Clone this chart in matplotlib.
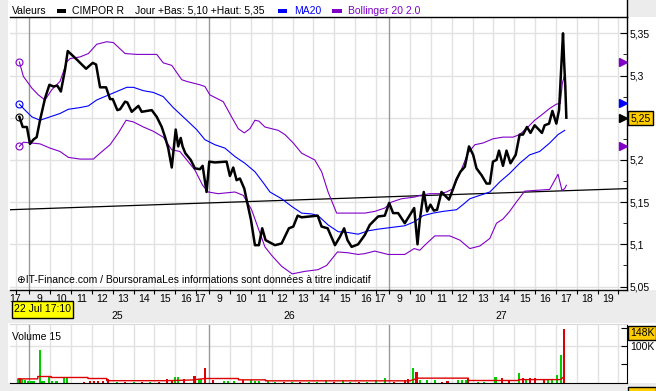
import matplotlib
matplotlib.use('Agg')
import matplotlib.pyplot as plt
from matplotlib.patches import Rectangle
from matplotlib.lines import Line2D
from matplotlib.ticker import FixedLocator, FuncFormatter, NullFormatter

plt.rcParams['font.family'] = ['Liberation Sans', 'DejaVu Sans']

W, H = 656, 391
SESSION = 8.63   # axis length of one trading day in hours (09:00 -> ~17:38)

# ---------------- data (x = session hours counted from 25 Jul 09:00) ----------------
price_t = [-0.48, -0.32, -0.12, 0.03, 0.19, 0.35, 0.51, 0.75, 0.96, 1.15, 1.34, 1.51, 1.71, 1.84,
           2.27, 2.72, 3.04, 3.20, 3.39, 3.68, 3.87, 4.00, 4.22, 4.35, 4.59, 4.70, 4.91, 5.23,
           5.39, 5.63, 5.87, 6.11, 6.35, 6.51, 6.66, 6.83, 6.90, 7.02, 7.14, 7.26, 7.35, 7.48,
           7.74, 7.94, 8.18, 8.31, 8.50, 8.63, 8.90, 9.46, 9.62, 9.78, 9.94, 10.10, 10.31, 10.42,
           10.63, 10.82, 11.01, 11.17, 11.33, 11.78, 12.10, 12.45, 12.66, 12.87, 13.06, 13.83,
           14.02, 14.31, 14.66, 14.90, 15.10, 15.26, 15.46, 15.77, 16.09, 16.33, 16.73, 17.05,
           17.26, 17.45, 17.69, 18.01, 18.46, 18.62, 18.73, 18.92, 19.08, 19.24, 19.40, 19.56,
           19.77, 19.93, 20.13, 20.30, 20.49, 20.68, 20.89, 21.09, 21.29, 21.45, 21.69, 21.93,
           22.09, 22.24, 22.41, 22.53, 22.72, 22.89, 23.08, 23.33, 23.52, 23.68, 23.87, 24.04,
           24.24, 24.40, 24.59, 24.72, 24.93, 25.09, 25.28, 25.41, 25.52, 25.60, 25.65, 25.71, 25.76]
price_v = [5.251, 5.239, 5.239, 5.219, 5.224, 5.227, 5.247, 5.273, 5.289, 5.287, 5.288, 5.281, 5.307, 5.329,
           5.319, 5.308, 5.315, 5.313, 5.286, 5.286, 5.272, 5.272, 5.259, 5.260, 5.269, 5.268, 5.257, 5.264,
           5.257, 5.258, 5.259, 5.251, 5.239, 5.227, 5.214, 5.191, 5.208, 5.236, 5.216, 5.226, 5.216, 5.208,
           5.200, 5.190, 5.189, 5.193, 5.162, 5.198, 5.197, 5.198, 5.181, 5.191, 5.176, 5.178, 5.166, 5.153,
           5.129, 5.099, 5.099, 5.119, 5.105, 5.099, 5.101, 5.119, 5.121, 5.134, 5.132, 5.134,
           5.121, 5.119, 5.099, 5.109, 5.119, 5.105, 5.097, 5.100, 5.111, 5.123, 5.133, 5.134,
           5.149, 5.137, 5.137, 5.125, 5.143, 5.100, 5.129, 5.162, 5.139, 5.147, 5.140, 5.141,
           5.162, 5.158, 5.153, 5.164, 5.177, 5.186, 5.192, 5.216, 5.206, 5.190, 5.182, 5.172,
           5.172, 5.198, 5.200, 5.211, 5.193, 5.211, 5.196, 5.206, 5.230, 5.230, 5.239, 5.232,
           5.241, 5.237, 5.232, 5.241, 5.243, 5.258, 5.243, 5.259, 5.312, 5.350, 5.318, 5.287, 5.250]

ma_t = [-0.48, -0.21, 0.12, 0.51, 0.99, 1.47, 1.87, 2.43, 2.83, 3.23, 3.71, 4.19, 4.67, 4.99, 5.47,
        5.94, 6.42, 6.90, 7.55, 8.02, 8.42, 8.90, 9.38, 9.86, 10.34, 10.82, 11.22, 11.54, 12.10,
        12.58, 13.06, 13.54, 13.85, 14.33, 14.81, 15.29, 15.77, 16.25, 16.73, 17.37, 18.01, 18.49,
        18.89, 19.37, 19.84, 20.49, 20.80, 21.13, 21.61, 22.09, 22.57, 23.04, 23.52, 24.00, 24.48,
        24.96, 25.36, 25.68]
ma_v = [5.266, 5.259, 5.251, 5.247, 5.251, 5.255, 5.260, 5.262, 5.264, 5.271, 5.276, 5.281, 5.286, 5.286, 5.282,
        5.280, 5.275, 5.262, 5.247, 5.236, 5.224, 5.218, 5.214, 5.204, 5.196, 5.186, 5.173, 5.162, 5.154,
        5.145, 5.137, 5.136, 5.134, 5.123, 5.115, 5.114, 5.112, 5.116, 5.118, 5.120, 5.122, 5.127,
        5.134, 5.137, 5.139, 5.141, 5.147, 5.154, 5.158, 5.162, 5.174, 5.184, 5.196, 5.206, 5.210,
        5.220, 5.230, 5.235]

upper_t = [-0.48, -0.29, 0.12, 0.43, 0.75, 1.07, 1.47, 1.79, 1.95, 2.43, 2.83, 3.23, 3.71, 4.03, 4.59,
           5.15, 6.11, 6.42, 6.83, 7.31, 7.55, 8.18, 8.42, 8.66, 9.30, 9.70, 10.02, 10.31, 10.58,
           10.82, 11.01, 11.30, 11.94, 12.26, 12.66, 13.06, 13.69, 14.02, 14.33, 14.74, 15.13, 16.09,
           16.57, 17.05, 17.37, 17.85, 18.49, 18.73, 19.21, 19.69, 20.01, 20.33, 20.65, 21.04, 21.37,
           21.76, 22.24, 22.72, 23.20, 23.52, 23.92, 24.24, 24.56, 24.96, 25.28, 25.47, 25.57, 25.68]
upper_v = [5.316, 5.299, 5.285, 5.277, 5.271, 5.283, 5.293, 5.316, 5.320, 5.322, 5.326, 5.337, 5.340, 5.339, 5.326,
           5.325, 5.325, 5.315, 5.312, 5.295, 5.293, 5.289, 5.287, 5.277, 5.269, 5.251, 5.237, 5.232, 5.237,
           5.247, 5.246, 5.239, 5.235, 5.230, 5.220, 5.208, 5.200, 5.186, 5.162, 5.137, 5.137, 5.137,
           5.139, 5.143, 5.150, 5.154, 5.156, 5.158, 5.160, 5.160, 5.162, 5.166, 5.184, 5.208, 5.218,
           5.220, 5.225, 5.227, 5.227, 5.230, 5.239, 5.247, 5.253, 5.261, 5.266, 5.267, 5.291, 5.301]

lower_t = [-0.48, -0.29, 0.12, 0.51, 0.99, 1.47, 1.87, 2.43, 3.07, 3.39, 3.87, 4.27, 4.64, 4.99, 5.47,
           5.94, 6.42, 6.83, 7.22, 7.55, 7.94, 8.31, 8.58, 9.06, 9.86, 10.26, 10.66, 10.98, 11.30,
           11.62, 12.10, 12.61, 13.22, 13.85, 14.26, 14.78, 15.29, 15.77, 16.09, 16.57, 17.21, 18.01,
           18.46, 18.73, 18.97, 19.45, 20.17, 20.65, 21.13, 21.61, 22.09, 22.41, 22.72, 23.04, 23.33,
           23.76, 24.32, 24.96, 25.36, 25.55, 25.68, 25.76]
lower_v = [5.216, 5.221, 5.220, 5.219, 5.214, 5.210, 5.203, 5.201, 5.201, 5.208, 5.218, 5.232, 5.247, 5.245, 5.239,
           5.234, 5.227, 5.212, 5.210, 5.200, 5.188, 5.170, 5.162, 5.160, 5.162, 5.158, 5.141, 5.119, 5.097,
           5.087, 5.074, 5.065, 5.068, 5.070, 5.075, 5.091, 5.090, 5.088, 5.089, 5.092, 5.088, 5.088,
           5.095, 5.093, 5.099, 5.110, 5.110, 5.105, 5.095, 5.098, 5.107, 5.125, 5.130, 5.139, 5.149,
           5.163, 5.164, 5.165, 5.183, 5.164, 5.166, 5.170]

trend_t = [-0.93, 28.67]
trend_v = [5.141, 5.166]

last_marks = [(5.316, '#8000c8'), (5.267, '#0000ff'), (5.250, '#000000'), (5.216, '#8000c8')]

vol_t = [-0.54, -0.44, -0.34, -0.20, -0.06, 0.10, 0.20, 0.50, 0.60, 0.70, 0.96, 1.10, 1.30, 1.64, 1.80,
         2.61, 2.91, 3.11, 3.31, 3.51, 3.77, 4.20, 4.60, 5.00, 5.40, 5.80, 6.20, 6.62, 6.82, 6.98, 7.12,
         7.42, 7.92, 8.12, 8.22, 8.44, 8.82, 9.32, 9.53, 9.83, 10.23, 10.63, 10.83, 11.03, 11.43,
         11.80, 12.20, 12.60, 13.00, 13.40, 13.80, 14.24, 14.60, 15.04, 15.40, 15.80, 16.20, 16.65,
         17.05, 17.50, 18.01, 18.15, 18.39, 18.57, 18.75, 19.06, 19.45, 19.80, 20.06, 20.56, 20.76,
         20.96, 21.06, 21.50, 21.80, 22.36, 22.67, 23.03, 23.51, 23.67, 23.83, 24.03, 24.27, 24.67,
         24.87, 25.07, 25.33, 25.51, 25.66]
vol_v = [9.2, 12.8, 9.2, 7.3, 3.7, 2.8, 2.8, 90.8, 3.7, 3.7, 14.7, 3.7, 3.7, 12.0, 12.0,
         2.0, 5.5, 3.7, 3.7, 3.7, 10.0, 2.5, 2.5, 2.5, 2.5, 2.5, 2.5, 9.0, 7.0, 13.8, 13.8,
         9.0, 19.0, 10.0, 10.0, 41.0, 7.3, 3.7, 3.7, 3.7, 7.0, 7.3, 5.0, 5.0, 3.0,
         2.5, 2.5, 2.5, 2.5, 2.5, 2.5, 7.3, 2.5, 7.3, 2.5, 2.5, 2.5, 8.0,
         12.8, 2.5, 7.3, 9.2, 41.0, 30.0, 7.3, 7.3, 7.3, 2.5, 3.7, 7.3, 7.3,
         7.3, 12.8, 2.5, 2.5, 13.8, 12.8, 7.3, 25.7, 12.8, 10.0, 12.8, 12.8, 10.0,
         10.0, 7.3, 22.0, 75.0, 148.0]   # thousands
vol_up = ['g', 'r', 'g', 'g', 'g', 'g', 'g', 'g', 'g', 'g', 'g', 'g', 'g', 'g', 'g',
          'r', 'r', 'r', 'r', 'r', 'r', 'g', 'r', 'g', 'r', 'g', 'r', 'r', 'r', 'g', 'g',
          'r', 'r', 'g', 'g', 'r', 'r', 'g', 'g', 'g', 'r', 'g', 'g', 'g', 'g',
          'g', 'r', 'g', 'r', 'g', 'g', 'g', 'r', 'g', 'g', 'r', 'g', 'g',
          'g', 'r', 'r', 'r', 'g', 'r', 'g', 'g', 'g', 'r', 'r', 'g', 'g',
          'g', 'r', 'g', 'g', 'g', 'r', 'r', 'g', 'r', 'g', 'r', 'r', 'r',
          'g', 'g', 'g', 'g', 'r']

volma_t = [-0.54, 0.40, 0.40, 1.04, 1.04, 2.81, 2.81, 3.71, 3.71, 6.62, 7.82, 8.42, 10.03, 10.03,
           11.33, 11.33, 18.25, 18.65, 21.06, 21.06, 23.47, 23.47, 25.47, 25.66]
volma_v = [10.0, 10.0, 16.5, 16.5, 13.8, 13.8, 11.0, 11.0, 5.0, 5.0, 7.0, 11.0, 11.0, 7.3,
           7.3, 4.6, 4.6, 12.0, 12.0, 5.5, 5.5, 8.0, 8.0, 16.0]

day_names = ['25', '26', '27']
day_label_t = [4.21, 12.45, 22.66]

# ---------------- figure ----------------
GRAY = '#ececec'
PURPLE = '#8000c8'
fig = plt.figure(figsize=(W / 100, H / 100), dpi=100, facecolor=GRAY)


def px_rect(x, y, w, h, **kw):
    r = Rectangle((x / W, 1 - (y + h) / H), w / W, h / H, transform=fig.transFigure, **kw)
    fig.add_artist(r)
    return r


def px_text(x, y, s, **kw):
    return fig.text(x / W, 1 - y / H, s, **kw)


# white backgrounds
px_rect(8, 0, 619, 290, facecolor='white', edgecolor='none', zorder=0)
px_rect(627, 17, 29, 273, facecolor='white', edgecolor='none', zorder=0)
px_rect(8, 323, 648, 60, facecolor='white', edgecolor='none', zorder=0)
fig.add_artist(Line2D([627 / W, 627 / W], [1 - 17 / H, 1.0], color='black', lw=1,
                      transform=fig.transFigure))

XL = (-0.93, 28.67)

# gridline positions
hour_grid = []
for k in (-1, 0, 1, 2):
    last = 11 if k == 2 else 8
    for n in range(1, last + 1):
        hour_grid.append(k * SESSION + n)
hour_grid = [x for x in hour_grid if XL[0] < x < XL[1]]
day_bounds = [k * SESSION for k in (0, 1, 2)]

# hour labels
lab_t, lab_s = [-0.70], ['17']
for k in (0, 1, 2):
    hours = range(9, 20) if k == 2 else range(9, 18)
    for h in hours:
        off = 8.2 if (h == 17 and k < 2) else (h - 9) + 0.5
        lab_t.append(k * SESSION + off)
        lab_s.append(str(h))

# ---------------- main price axes ----------------
ax = fig.add_axes([10 / W, 1 - 290 / H, 617 / W, 273 / H])
ax.set_facecolor('white')
ax.set_xlim(*XL)
ax.set_ylim(5.0459, 5.3693)
for s in ('left',):
    ax.spines[s].set_visible(False)
for s in ('top', 'right', 'bottom'):
    ax.spines[s].set_color('black')
    ax.spines[s].set_linewidth(1)

ax.xaxis.set_major_locator(FixedLocator(sorted(hour_grid + day_bounds)))
ax.xaxis.set_major_formatter(NullFormatter())
ax.xaxis.set_minor_locator(FixedLocator(lab_t))
ax.xaxis.set_minor_formatter(FuncFormatter(lambda v, p: lab_s[p] if p is not None and p < len(lab_s) else ''))
ax.set_xticks(lab_t, minor=True)
ax.set_xticklabels(lab_s, minor=True)
ax.tick_params(axis='x', which='major', direction='out', length=3, color='black')
ax.tick_params(axis='x', which='minor', length=0, pad=3, labelsize=7.5)

ax.yaxis.tick_right()
yt = [5.05, 5.10, 5.15, 5.20, 5.25, 5.30, 5.35]
ax.set_yticks(yt)
ax.set_yticklabels([('' if abs(v - 5.25) < 1e-9 else f'{v:.2f}'.rstrip('0').replace('.', ',')) for v in yt])
ax.set_yticks([v + 0.025 for v in yt[:-1]], minor=True)
ax.tick_params(axis='y', which='both', direction='in', color='black', labelsize=7.5, pad=2)
ax.tick_params(axis='y', which='major', length=5)
ax.tick_params(axis='y', which='minor', length=3)

for x in hour_grid:
    ax.axvline(x, color='#e2e2e2', lw=1, zorder=0)
for x in day_bounds:
    ax.axvline(x, color='#9a9a9a', lw=1, zorder=0.5)
for v in yt:
    ax.axhline(v, color='#e2e2e2', lw=1, zorder=0)

ax.plot(trend_t, trend_v, color='black', lw=0.9, zorder=2)
ax.plot(upper_t, upper_v, color=PURPLE, lw=0.8, zorder=3)
ax.plot(lower_t, lower_v, color=PURPLE, lw=0.8, zorder=3)
ax.plot(ma_t, ma_v, color='#0000ff', lw=0.8, zorder=3)
ax.plot(price_t, price_v, color='black', lw=1.8, zorder=4)
for tt, vv, cc in ((upper_t, upper_v, PURPLE), (lower_t, lower_v, PURPLE),
                   (ma_t, ma_v, '#0000ff'), (price_t, price_v, 'black')):
    ax.plot([tt[0]], [vv[0]], 'o', ms=5, mfc='none', mec=cc, mew=0.8, zorder=5)

for v, c in last_marks:
    ax.plot([28.46], [v], marker='>', ms=6, color=c, clip_on=False, zorder=6, linestyle='none')

ax.text(0.012, 0.018, '\u2295IT-Finance.com / BoursoramaLes informations sont données à titre indicatif',
        transform=ax.transAxes, fontsize=7.5, va='bottom', ha='left', color='black')

# day labels
for t, s in zip(day_label_t, day_names):
    ax.text(t, 1 - 316 / H, s, transform=ax.get_xaxis_transform() if False else
            __import__('matplotlib').transforms.blended_transform_factory(ax.transData, fig.transFigure),
            ha='center', va='center', fontsize=7.5)

# last price box
px_rect(628, 111, 25, 14, facecolor='#ffcc00', edgecolor='black', lw=1, zorder=10)
px_text(640.5, 118.5, '5,25', ha='center', va='center', fontsize=7.5, zorder=11)

# date box
px_rect(12, 301, 61, 17, facecolor='#ffff00', edgecolor='black', lw=1, zorder=10)
px_text(42.5, 309.5, '22 Jul 17:10', ha='center', va='center', fontsize=7.5, zorder=11)

# header legend
ty = 10.5
px_text(12, ty, 'Valeurs', va='center', fontsize=7.5)
px_rect(57, 9, 9, 3.5, facecolor='black', edgecolor='none')
px_text(72, ty, 'CIMPOR R', va='center', fontsize=7.5)
px_text(135, ty, 'Jour +Bas: 5,10 +Haut: 5,35', va='center', fontsize=7.5)
px_rect(278, 9, 9, 3.5, facecolor='#0000ff', edgecolor='none')
px_text(294, ty, 'MA20', va='center', fontsize=7.5, color='#0000ff')
px_rect(332, 9, 10, 3.5, facecolor=PURPLE, edgecolor='none')
px_text(348, ty, 'Bollinger 20 2.0', va='center', fontsize=7.5, color=PURPLE)

# ---------------- volume axes ----------------
av = fig.add_axes([10 / W, 1 - 382.5 / H, 617 / W, 58.5 / H])
av.set_facecolor('white')
av.set_xlim(*XL)
av.set_ylim(0, 161)
av.spines['left'].set_visible(False)
av.spines['top'].set_color('#d8d8d8')
av.spines['right'].set_color('black')
av.spines['bottom'].set_color('black')
av.set_xticks([])
av.yaxis.tick_right()
av.set_yticks([50, 100, 150])
av.set_yticklabels(['', '100K', ''])
av.tick_params(axis='y', direction='in', length=4, labelsize=7.5, pad=2)
for x in hour_grid:
    av.axvline(x, color='#e2e2e2', lw=1, zorder=0)
for x in day_bounds:
    av.axvline(x, color='#9a9a9a', lw=1, zorder=0.5)
av.axhline(100, color='#e2e2e2', lw=1, zorder=0)
colors = ['#00cc00' if c == 'g' else '#dd0000' for c in vol_up]
av.bar(vol_t, vol_v, width=0.1, color=colors, zorder=2)
av.plot(volma_t, volma_v, color='#dd0000', lw=1, zorder=3)
av.text(0.004, 0.77, 'Volume 15', transform=av.transAxes, fontsize=7.5, va='center')

px_rect(628, 326, 28, 14, facecolor='#ffcc00', edgecolor='black', lw=1, zorder=10)
px_text(642, 333, '148K', ha='center', va='center', fontsize=7.5, zorder=11)
px_rect(628, 387, 28, 5, facecolor='#ffcc00', edgecolor='black', lw=1, zorder=10)

fig.savefig('out.png', dpi=100, facecolor=GRAY)
